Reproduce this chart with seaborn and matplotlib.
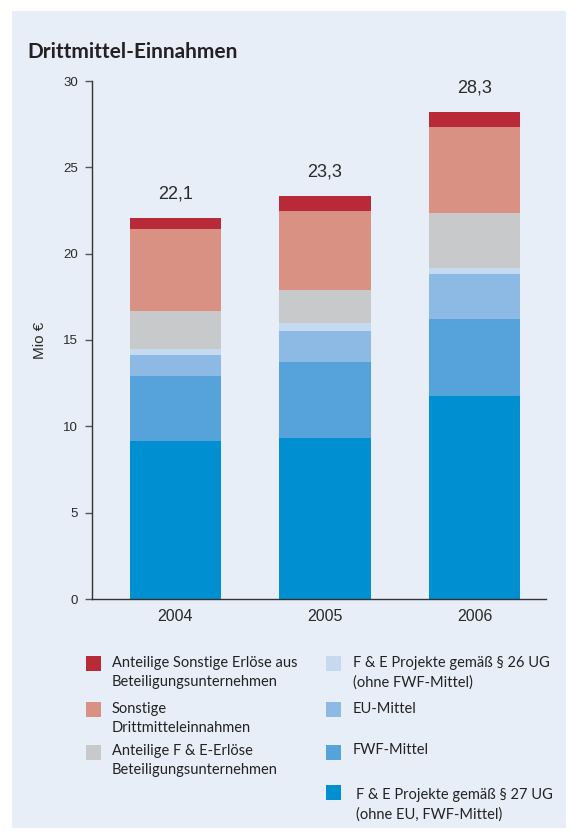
import numpy as np
import pandas as pd
import matplotlib
matplotlib.use("Agg")
import matplotlib.pyplot as plt
from matplotlib.patches import Rectangle
import seaborn as sns

years = ["2004", "2005", "2006"]
totals_labels = ["22,1", "23,3", "28,3"]
# bottom -> top order
series_names = [
    "F & E Projekte gemäß § 27 UG\n(ohne EU, FWF-Mittel)",
    "FWF-Mittel",
    "EU-Mittel",
    "F & E Projekte gemäß § 26 UG\n(ohne FWF-Mittel)",
    "Anteilige F & E-Erlöse\nBeteiligungsunternehmen",
    "Sonstige\nDrittmitteleinnahmen",
    "Anteilige Sonstige Erlöse aus\nBeteiligungsunternehmen",
]
fe27 = [9.17, 9.34, 11.78]
fwf = [3.77, 4.36, 4.41]
eu = [1.22, 1.85, 2.61]
fe26 = [0.29, 0.41, 0.35]
ant_fe = [2.21, 1.92, 3.20]
sonstige = [4.74, 4.58, 4.99]
ant_sonst = [0.65, 0.87, 0.86]
series_values = [fe27, fwf, eu, fe26, ant_fe, sonstige, ant_sonst]
colors = ["#008fd0", "#55a3da", "#8dbae4", "#c5d9f0", "#c8c9cb", "#d99183", "#b82a38"]

sns.set_style("white")
plt.rcParams["font.family"] = ["Liberation Sans", "DejaVu Sans"]

fig = plt.figure(figsize=(5.71, 8.34), dpi=100)
fig.patch.set_facecolor("white")
W, H = 571, 834
fig.patches.append(Rectangle((12 / W, (H - 828) / H), 554 / W, 817 / H,
                             transform=fig.transFigure, facecolor="#e8eef8",
                             edgecolor="none", zorder=-5))

ax = fig.add_axes([92 / W, (H - 599) / H, (546 - 92) / W, (599 - 81) / H])
ax.set_facecolor("none")
ax.set_zorder(2)

cum = np.cumsum(np.array(series_values), axis=0)
# draw from top layer to bottom layer (overlapping cumulative bars)
for i in range(len(series_names) - 1, -1, -1):
    df = pd.DataFrame({"Jahr": years, "Wert": cum[i]})
    sns.barplot(data=df, x="Jahr", y="Wert", color=colors[i], saturation=1,
                width=0.61, ax=ax, linewidth=0)

for xi, (tot, lab) in enumerate(zip(cum[-1], totals_labels)):
    ax.annotate(lab, (xi, tot), xytext=(0, 11), textcoords="offset points",
                ha="center", va="bottom", fontsize=13, color="#2a2a2a",
                family=["Liberation Sans", "DejaVu Sans"])

ax.set_xlim(-0.558, 2.478)
ax.set_ylim(0, 30)
ax.set_yticks([0, 5, 10, 15, 20, 25, 30])
ax.set_xlabel("")
ax.set_ylabel("Mio €", fontsize=11, color="#2a2a2a", labelpad=12)
for s in ["top", "right"]:
    ax.spines[s].set_visible(False)
for s in ["left", "bottom"]:
    ax.spines[s].set_color("#333333")
    ax.spines[s].set_linewidth(1.0)
ax.tick_params(axis="y", direction="out", length=5, width=1, color="#555555",
               labelsize=9.5, labelcolor="#2a2a2a", pad=5, left=True)
ax.tick_params(axis="x", length=0, labelsize=11.5, labelcolor="#2a2a2a", pad=7)

fig.text(27 / W, 1 - 52 / H, "Drittmittel-Einnahmen", fontsize=15,
         fontweight="bold", color="#222222", va="center", ha="left",
         family=["Lato", "DejaVu Sans"])

# legend (manual layout)
leg_font = ["Lato", "DejaVu Sans"]
entries = [
    (6, 86, 656, 112, 663),
    (5, 86, 702, 112, 709),
    (4, 86, 745, 112, 751),
    (3, 326, 656, 353, 663),
    (2, 326, 702, 353, 709),
    (1, 326, 745, 353, 750),
    (0, 326, 785, 356, 795),
]
for idx, mx, my, tx, ty in entries:
    fig.patches.append(Rectangle((mx / W, 1 - (my + 15) / H), 15 / W, 15 / H,
                                 transform=fig.transFigure,
                                 facecolor=colors[idx], edgecolor="none"))
    fig.text(tx / W, 1 - (ty - 7) / H, series_names[idx], fontsize=10.5,
             color="#222222", va="top", ha="left", linespacing=1.45,
             family=leg_font)

fig.savefig("out.png", dpi=100, facecolor="white")
